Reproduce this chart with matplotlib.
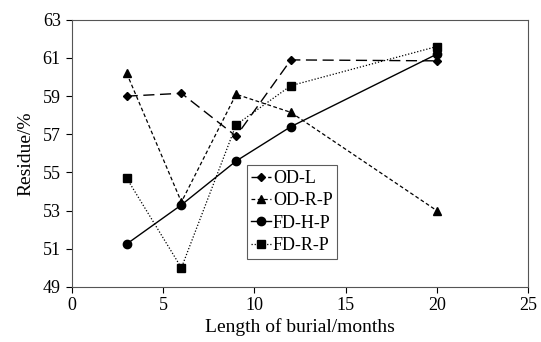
import matplotlib
matplotlib.use("Agg")
import matplotlib.pyplot as plt

plt.rcParams['font.family'] = ['Liberation Serif', 'DejaVu Serif']

months = [3, 6, 9, 12, 20]
od_l = [59.0, 59.15, 56.9, 60.9, 60.85]
od_r_p = [60.2, 53.45, 59.1, 58.15, 53.0]
fd_h_p = [51.25, 53.3, 55.6, 57.4, 61.2]
fd_r_p = [54.7, 50.0, 57.5, 59.55, 61.6]

fig = plt.figure(figsize=(5.41, 3.42), dpi=100)
ax = fig.add_axes([0.133, 0.161, 0.843, 0.781])

ax.plot(months, od_l, color='black', lw=1, linestyle=(0, (8, 4)), marker='D', ms=4, label='OD-L')
ax.plot(months, od_r_p, color='black', lw=0.9, linestyle=(0, (3, 2)), marker='^', ms=5.5, label='OD-R-P')
ax.plot(months, fd_h_p, color='black', lw=1, linestyle='-', marker='o', ms=6, label='FD-H-P')
ax.plot(months, fd_r_p, color='black', lw=0.9, linestyle=(0, (1, 1.5)), marker='s', ms=6, label='FD-R-P')

ax.set_xlim(0, 25)
ax.set_ylim(49, 63)
ax.set_xticks([0, 5, 10, 15, 20, 25])
ax.set_yticks(range(49, 64, 2))
ax.tick_params(direction='out', labelsize=13, length=4)
ax.tick_params(axis='y', pad=4)
ax.set_xlabel('Length of burial/months', fontsize=14, labelpad=3)
ax.set_ylabel('Residue/%', fontsize=14, labelpad=6)
for s in ax.spines.values():
    s.set_linewidth(0.8)
    s.set_color('#555555')

leg = ax.legend(loc='upper left', bbox_to_anchor=(0.383, 0.455), fontsize=13,
                frameon=True, fancybox=False, handlelength=1.1, handletextpad=0.1,
                borderpad=0.25, labelspacing=0.3, borderaxespad=0)
leg.get_frame().set_edgecolor('#333333')
leg.get_frame().set_linewidth(0.8)

fig.savefig('out.png', dpi=100)
